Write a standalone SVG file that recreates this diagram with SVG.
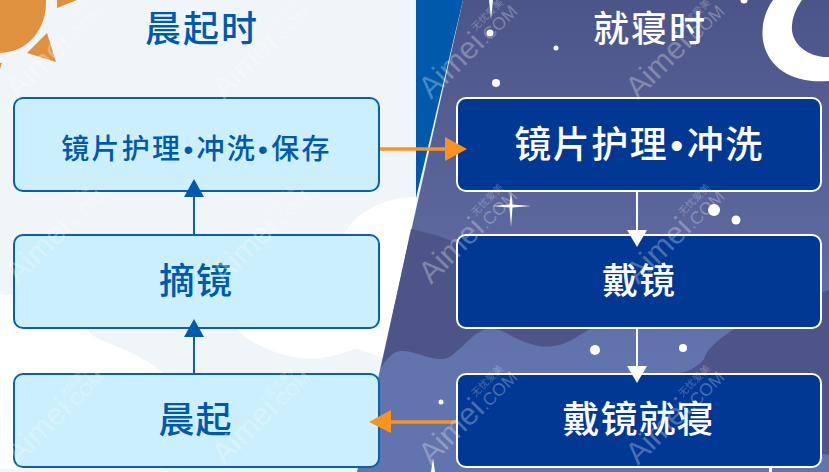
<svg xmlns="http://www.w3.org/2000/svg" width="829" height="472" viewBox="0 0 829 472">
<defs>
<linearGradient id="night" x1="0" y1="0" x2="0" y2="1"><stop offset="0" stop-color="#4c5588"/><stop offset="0.45" stop-color="#5a659b"/><stop offset="0.75" stop-color="#6274ad"/><stop offset="1" stop-color="#6274ad"/></linearGradient>
<g id="wm"><text class="wm" x="0" y="0" font-size="31">Aimei</text><text class="wm" x="78" y="0" font-size="17.500">.COM</text><text class="wmc" x="80" y="-17" font-size="10">无忧爱美</text></g>
</defs>
<style>
text{font-family:"Noto Sans CJK SC","Noto Sans",sans-serif}
.day rect{fill:#cbeffd;stroke:#0a5fb0;stroke-width:2}
.night rect{fill:#003893;stroke:#fff;stroke-width:2}
.day text{fill:#0059ab;text-anchor:middle;font-weight:500}
.night text{fill:#fff;text-anchor:middle;font-weight:500}
.title{font-size:36px;letter-spacing:2px;text-anchor:middle;font-weight:500}
.dot{font-family:"Liberation Sans",sans-serif}
.star{fill:#fff}
.wave{fill:#4d5588}
.sun{fill:#e0913f}
.wm{fill:#fff;fill-opacity:.28;font-family:"Liberation Sans",sans-serif}
.wmc{fill:#fff;fill-opacity:.28}
</style>
<g id="background">
<rect width="829" height="472" fill="#f0f5fa"/>
<path d="M0 294L14 296L88 330C92 342 130 345 165 374V469H0Z" fill="#fff"/>
<path d="M416 197C385 197 355 212 343 236L237 329C250 345 290 362 320 358C340 356 350 349 358 349L380 357L416 365Z" fill="#fff"/>
<path d="M416 0H463L416 198Z" fill="#0059ab"/>
<path d="M463 0H829V472H357Z" fill="url(#night)"/>
<path class="wave" d="M411 229L439 236L457 243L600 300L590 329C575 338 565 345 554 346C545 347 540 347 531 344C515 340 505 330 494 329C488 329 484 329 481 331C470 337 465 345 457 351C450 358 445 359 441 359C430 359 420 354 414 353C408 351 404 351 400 351C392 352 386 360 381 368Z"/>
<path class="wave" d="M674 374C690 372 700 365 704 359C708 348 714 343 734 329C770 312 800 300 829 290V455L800 450H674Z"/>
<path class="sun" d="M0 0H46C47 28 29 52 0 53Z"/>
<path class="sun" d="M47 33L56 62L27 53Z"/>
<path class="sun" d="M57 0L57 8L77 0Z"/>
<path class="sun" d="M0 63H2L0 69Z"/>
<path d="M773 0C752 30 762 72 805 80C815 82 822 81 829 81V57C810 58 790 45 792 25C793 15 797 7 802 0Z" fill="#fff"/>
<circle class="star" cx="490" cy="33" r="3.500"/><circle class="star" cx="556" cy="48" r="2.500"/><circle class="star" cx="496" cy="83" r="4"/><circle class="star" cx="744" cy="0" r="3.500"/>
<circle class="star" cx="714" cy="210" r="6"/><circle class="star" cx="736" cy="220" r="4.500"/><circle class="star" cx="595" cy="350" r="5"/><circle class="star" cx="683" cy="348" r="4"/><circle class="star" cx="441" cy="402" r="2.500"/>
<path class="star" d="M511 192L512.500 204.500L531 206L512.500 207.500L511 227L509.500 207.500L492 206L509.500 204.500Z"/>
<path class="star" d="M489 0H493L491 19Z"/>
<path class="star" d="M431 472L433 458L435 472Z"/>
<rect class="star" x="769" y="468" width="3" height="4"/>
</g>
<g id="title-morning" class="day"><text x="202" y="42" class="title">晨起时</text></g>
<g id="title-night" class="night"><text x="650" y="42" class="title">就寝时</text></g>
<g id="n1" class="day"><rect x="14" y="98" width="365" height="93" rx="9"/><text x="196.500" y="159" font-size="28" letter-spacing="2.300">镜片护理<tspan class="dot" dx="1">•</tspan><tspan dx="1">冲洗</tspan><tspan class="dot" dx="1">•</tspan><tspan dx="1">保存</tspan></text></g>
<g id="n2" class="day"><rect x="14" y="235" width="365" height="93" rx="9"/><text x="196" y="294" font-size="36" letter-spacing="1">摘镜</text></g>
<g id="n3" class="day"><rect x="14" y="374" width="365" height="93" rx="9"/><text x="195.500" y="433" font-size="36" letter-spacing="1">晨起</text></g>
<g id="n4" class="night"><rect x="457" y="98" width="364" height="93" rx="9"/><text x="639" y="158" font-size="37" letter-spacing="1.500">镜片护理<tspan class="dot" dx="2">•</tspan><tspan dx="2">冲洗</tspan></text></g>
<g id="n5" class="night"><rect x="457" y="235" width="364" height="93" rx="9"/><text x="639" y="294" font-size="36" letter-spacing="1">戴镜</text></g>
<g id="n6" class="night"><rect x="457" y="374" width="364" height="93" rx="9"/><text x="638.500" y="433" font-size="37" letter-spacing="1">戴镜就寝</text></g>
<g id="connectors" fill="none">
<path d="M194 235V196M194 374V336" stroke="#0a5fb0" stroke-width="2"/>
<path d="M194 179L204 197H184ZM194 319L204 337H184Z" fill="#0059ab"/>
<path d="M637 192V232M637 329V368" stroke="#fff" stroke-width="2"/>
<path d="M637 247L627 230H647ZM637 383L627 366H647Z" fill="#fff"/>
<path d="M380 149H446M391 422H456" stroke="#f7931e" stroke-width="3.500"/>
<path d="M467 149L445 137V161ZM369 422L391 410V433Z" fill="#f7931e"/>
</g>
<g id="watermarks">
<use href="#wm" transform="translate(18 100) rotate(-45)"/><use href="#wm" transform="translate(224 100) rotate(-45)"/><use href="#wm" transform="translate(431 100) rotate(-45)"/><use href="#wm" transform="translate(638 100) rotate(-45)"/>
<use href="#wm" transform="translate(18 285) rotate(-45)"/><use href="#wm" transform="translate(224 285) rotate(-45)"/><use href="#wm" transform="translate(431 285) rotate(-45)"/><use href="#wm" transform="translate(638 285) rotate(-45)"/>
<use href="#wm" transform="translate(18 466) rotate(-45)"/><use href="#wm" transform="translate(224 466) rotate(-45)"/><use href="#wm" transform="translate(431 466) rotate(-45)"/><use href="#wm" transform="translate(638 466) rotate(-45)"/>
</g>
</svg>
